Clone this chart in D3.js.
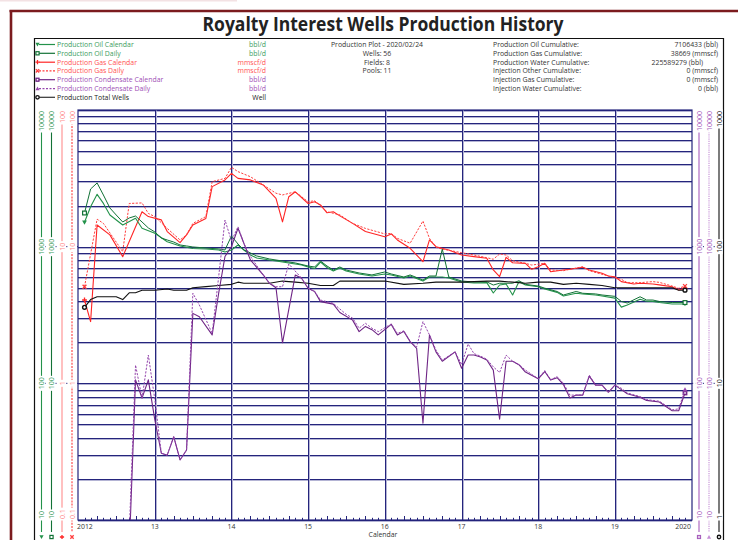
<!DOCTYPE html>
<html><head><meta charset="utf-8">
<script src="https://cdn.jsdelivr.net/npm/d3@7"></script>
<style>body{margin:0;background:#fff}svg{display:block}text{font-family:"Open Sans","Liberation Sans",Arial,sans-serif}</style>
</head><body><svg id="c" width="738" height="540"></svg>
<script>
// ---------- DATA (month index: 0 = Jan 2012) ----------
const oilCalendar = [[1,1507],[2,1957],[3,2415],[4,2073],[5,1705],[7,1442],[9,1614],[10,1364],[12,1252],[14,1087],[16,1012],[18,970],[20,962],[22,946],[23,915],[24,946],[25,1029],[26,946],[27,870],[28,827],[30,798],[32,772],[33,760],[35,735],[36,710],[37,692],[38,772],[39,704],[40,664],[41,698],[42,664],[44,631],[46,610],[48,631],[49,621],[51,590],[52,610],[54,561],[55,600],[56,600],[57,600],[58,590],[60,551],[62,542],[64,546],[65,458],[66,524],[67,533],[68,443],[69,553],[70,524],[72,509],[73,490],[75,463],[76,436],[78,456],[79,451],[81,443],[82,436],[84,420],[85,361],[86,374],[88,412],[89,399],[90,398],[91,390],[93,381],[95,381]];
const oilDaily = [[1,1763],[2,2642],[3,2924],[4,2388],[5,1918],[6,1705],[7,1515],[8,1622],[9,1676],[10,1515],[11,1371],[12,1281],[13,1157],[14,1119],[15,1081],[16,1029],[17,1012],[18,995],[20,978],[22,962],[23,946],[24,1197],[25,1046],[26,946],[27,900],[28,855],[30,813],[32,785],[34,760],[36,722],[37,710],[38,785],[39,722],[40,675],[41,710],[42,675],[44,642],[46,621],[48,653],[49,631],[51,600],[52,621],[54,570],[55,610],[56,610],[57,960],[58,600],[60,561],[62,551],[64,553],[65,524],[66,540],[68,540],[69,563],[70,530],[72,515],[73,497],[75,470],[76,443],[78,470],[79,456],[81,451],[82,443],[84,433],[85,397],[86,387],[88,430],[89,407],[90,407],[91,397],[93,390],[95,390]];
const gasCalendar = [[1,4.07],[2,2.83],[3,14.4],[5,12.2],[7,8.45],[10,18.0],[11,16.6],[13,15.7],[14,12.9],[16,10.7],[17,12.2],[18,14.4],[20,16.1],[21,27.5],[23,30.8],[24,34.4],[25,31.6],[27,30.8],[29,28.3],[31,22.6],[32,15.2],[33,23.2],[34,25.2],[36,20.7],[37,21.3],[38,20.2],[39,17.7],[40,18.0],[41,16.8],[43,14.8],[45,12.9],[48,11.8],[49,12.4],[50,11.2],[52,9.73],[54,7.76],[55,11.2],[56,10.0],[58,9.46],[60,8.69],[62,8.45],[64,8.22],[65,6.75],[66,6.03],[67,8.36],[68,7.63],[70,7.55],[71,6.83],[72,7.13],[73,7.55],[74,6.56],[76,6.75],[77,6.83],[79,7.06],[80,6.75],[82,6.38],[83,6.10],[84,6.03],[85,5.55],[87,5.33],[88,5.40],[90,5.33],[91,5.25],[93,5.09],[94,4.82],[95,4.96]];
const gasDaily = [[1,5.09],[3,15.9],[4,14.8],[7,9.2],[8,20.7],[10,20.9],[11,17.5],[12,16.6],[14,13.6],[16,11.2],[17,12.2],[18,14.8],[20,16.6],[21,29.9],[23,31.6],[24,38.1],[25,35.4],[27,32.5],[29,28.3],[31,24.6],[32,23.9],[34,25.2],[36,21.3],[37,21.7],[39,18.0],[41,17.1],[43,14.8],[45,13.6],[48,12.4],[49,12.5],[50,11.5],[52,10.6],[54,15.4],[55,11.5],[56,9.9],[57,9.6],[60,9.04],[62,8.69],[64,8.3],[65,8.09],[66,8.84],[67,8.69],[68,7.89],[70,7.55],[71,7.34],[73,7.55],[74,6.75],[76,6.67],[77,6.83],[79,7.13],[80,6.67],[83,6.10],[85,5.77],[86,5.45],[88,5.45],[90,5.55],[91,5.48],[93,5.15],[94,4.96],[95,5.15]];
const condensateCalendar = [[8,6],[9,106],[10,78],[11,106],[12,54],[13,30.8],[14,29.8],[15,40.7],[16,27.5],[17,32.5],[18,325],[19,307],[21,226],[22,456],[23,847],[24,1000],[25,1364],[26,1058],[27,800],[29,621],[30,540],[31,500],[32,198],[34,621],[35,588],[36,496],[37,470],[38,396],[40,380],[41,330],[43,290],[44,239],[45,261],[46,247],[47,226],[49,270],[50,226],[51,240],[52,202],[53,180],[54,51],[55,226],[56,170],[57,145],[59,170],[60,129],[61,161],[62,161],[63,156],[64,148],[65,125],[66,54.6],[67,145],[68,145],[69,137],[70,121],[72,108],[73,122],[74,106],[75,110],[76,98],[77,78],[78,82],[79,82],[80,113],[81,97],[82,97],[83,86],[84,97],[85,90],[86,84],[88,79],[89,75],[91,73],[93,63],[94,63],[95,85]];
const condensateDaily = [[8,8],[9,136],[10,78],[11,161],[12,76],[13,30.8],[14,29.8],[15,40.7],[16,27.5],[17,32.5],[18,456],[19,374],[21,232],[22,603],[23,1567],[24,1100],[25,1400],[26,1058],[27,850],[29,621],[30,540],[31,509],[32,509],[33,747],[35,588],[36,496],[37,470],[38,407],[40,385],[41,350],[42,320],[43,300],[44,253],[45,275],[46,253],[47,239],[49,272],[50,232],[51,242],[52,202],[53,185],[54,283],[55,226],[56,175],[57,148],[59,170],[60,137],[61,194],[62,165],[63,158],[64,150],[65,132],[66,120],[67,161],[68,145],[69,137],[70,125],[72,108],[73,124],[74,106],[75,112],[76,100],[77,82],[78,82],[79,82],[80,115],[81,97],[82,97],[83,86],[84,97],[85,92],[86,85],[88,80],[89,76],[91,74],[93,64],[94,65],[95,90]];
const totalWells = [[1,36],[2,41],[3,43],[4,43],[6,43],[7,41],[8,46],[9,46],[10,48],[12,48],[14,49],[15,48],[17,48],[18,50],[20,51],[22,52],[24,53],[25,55],[26,54],[30,54],[32,56],[34,55],[36,54],[38,52],[40,52],[41,56],[43,56],[48,56],[51,53],[54,54],[56,55],[60,55],[64,56],[66,56],[68,55],[70,54],[72,55],[74,55],[76,53],[78,54],[80,53],[82,52],[84,50],[86,50],[88,50],[91,50],[93,50],[94,48],[95,48]];

const xTickLabels = ["2012","13","14","15","16","17","18","19","2020"];
const legendNames = ["Production Oil Calendar","Production Oil Daily","Production Gas Calendar","Production Gas Daily","Production Condensate Calendar","Production Condensate Daily","Production Total Wells"];
const legendUnits = ["bbl/d","bbl/d","mmscf/d","mmscf/d","bbl/d","bbl/d","Well"];
const infoLines = ["Production Plot - 2020/02/24","Wells: 56","Fields: 8","Pools: 11"];
const cumLabels = ["Production Oil Cumulative:","Production Gas Cumulative:","Production Water Cumulative:","Injection Other Cumulative:","Injection Gas Cumulative:","Injection Water Cumulative:"];
const cumValues = ["7106433 (bbl)","38669 (mmscf)","225589279 (bbl)","0 (mmscf)","0 (mmscf)","0 (bbl)"];

// ---------- LAYOUT ----------
const L = 78, R = 692, T = 110, B = 520;
const svg = d3.select('#c');
const toDate = m => new Date(2012, m, 1);
const x = d3.scaleTime().domain([new Date(2012,0,1), new Date(2020,0,1)]).range([L, R-0.5]);
const yOil = d3.scaleLog().domain([10,10000]).range([B,T]);
const yGas = d3.scaleLog().domain([0.1,100]).range([B,T]);
const yCond = d3.scaleLog().domain([10,10000]).range([B,T]);
const yWells = d3.scaleLog().domain([1,1000]).range([B,T]);

const C = {
  oilTxt:'#3c9c5e', oilCal:'#23924a', oilDay:'#127236',
  gasTxt:'#ff5252', gasCal:'#ff2525', gasDay:'#ff3d3d', gasAxis:'#ff8c8c',
  condTxt:'#a04fb6', condCal:'#6e2485', condDay:'#9546ad', condAxis:'#a65cbc', condAxisD:'#c68fd6',
  wells:'#111', navy:'#24247c', light:'#b4b4d4'
};

svg.append('rect').attr('width',738).attr('height',540).attr('fill','#fff');
svg.append('rect').attr('x',0).attr('y',0).attr('width',237).attr('height',1.5).attr('fill','#f3e2e4');
// maroon outer frame
svg.append('line').attr('x1',9.5).attr('x2',738).attr('y1',11).attr('y2',11).attr('stroke','#7b1b1e').attr('stroke-width',2.6);
svg.append('line').attr('x1',11).attr('x2',11).attr('y1',10).attr('y2',540).attr('stroke','#7b1b1e').attr('stroke-width',2.6);
// black inner frame
svg.append('path').attr('d','M34.5,540 V38.5 H723.5 V540').attr('fill','none').attr('stroke','#111').attr('stroke-width',1.2);

// title
svg.append('text').attr('x',383).attr('y',31).attr('text-anchor','middle').attr('font-size',20).attr('font-weight',700)
  .attr('fill','#222').attr('textLength',361).attr('lengthAdjust','spacingAndGlyphs').text('Royalty Interest Wells Production History');

// ---------- MARKERS ----------
function marker(g, type, cx, cy, color, s){
  s = s || 2.6;
  const m = g.append('g').attr('transform',`translate(${cx},${cy})`);
  if(type==='triDown') m.append('path').attr('d',`M${-s},${-s*0.8}H${s}L0,${s}Z`).attr('fill',color);
  else if(type==='triUp') m.append('path').attr('d',`M${-s},${s*0.8}H${s}L0,${-s}Z`).attr('fill',color);
  else if(type==='square') m.append('rect').attr('x',-s+0.5).attr('y',-s+0.5).attr('width',2*s-1).attr('height',2*s-1).attr('fill','#fff').attr('stroke',color).attr('stroke-width',1.2);
  else if(type==='squareFilled'){ m.append('rect').attr('x',-s+0.5).attr('y',-s+0.5).attr('width',2*s-1).attr('height',2*s-1).attr('fill',color).attr('stroke',color).attr('stroke-width',1);
    m.append('rect').attr('x',-0.8).attr('y',-0.8).attr('width',1.6).attr('height',1.6).attr('fill','#fff'); }
  else if(type==='plus') m.append('path').attr('d',`M${-s},0H${s}M0,${-s}V${s}`).attr('stroke',color).attr('stroke-width',1.3);
  else if(type==='cross') m.append('path').attr('d',`M${-s*0.8},${-s*0.8}L${s*0.8},${s*0.8}M${-s*0.8},${s*0.8}L${s*0.8},${-s*0.8}`).attr('stroke',color).attr('stroke-width',1.3);
  else if(type==='circle') m.append('circle').attr('r',s*0.8).attr('fill','#fff').attr('stroke',color).attr('stroke-width',1.4);
}

// ---------- LEGEND / HEADER ----------
const legendStyle = [
  {txt:C.oilTxt, line:C.oilCal, dash:null, mk:'triDown', mc:C.oilCal},
  {txt:C.oilTxt, line:C.oilDay, dash:null, mk:'square', mc:C.oilDay},
  {txt:C.gasTxt, line:C.gasCal, dash:null, mk:'plus', mc:C.gasCal},
  {txt:C.gasTxt, line:C.gasDay, dash:'2,1.5', mk:'cross', mc:C.gasDay},
  {txt:C.condTxt, line:C.condCal, dash:null, mk:'squareFilled', mc:C.condCal},
  {txt:C.condTxt, line:C.condDay, dash:'2,1.5', mk:'triUp', mc:C.condDay},
  {txt:'#222', line:'#333', dash:null, mk:'circle', mc:'#111'}
];
const rowY = [44.5,53.3,62.2,70.8,79.7,88.6,97.3];
const lg = svg.append('g');
legendNames.forEach((n,i)=>{
  const st = legendStyle[i], y = rowY[i];
  lg.append('line').attr('x1',39).attr('x2',55).attr('y1',y).attr('y2',y).attr('stroke',st.line).attr('stroke-width',1.2).attr('stroke-dasharray',st.dash);
  marker(lg, st.mk, 37.5, y, st.mc, 2.1);
  lg.append('text').attr('x',57).attr('y',y+2.4).attr('font-size',6.9).attr('fill',st.txt).text(n);
  lg.append('text').attr('x',266).attr('y',y+2.4).attr('text-anchor','end').attr('font-size',6.9).attr('fill',st.txt).text(legendUnits[i]);
});
infoLines.forEach((t,i)=>{
  lg.append('text').attr('x',377).attr('y',rowY[i]+2.4).attr('text-anchor','middle').attr('font-size',6.9).attr('fill','#333').text(t);
});
cumLabels.forEach((t,i)=>{
  lg.append('text').attr('x',493).attr('y',rowY[i]+2.4).attr('font-size',6.9).attr('fill','#333').text(t);
  lg.append('text').attr('x', i===2 ? 703 : 718).attr('y',rowY[i]+2.4).attr('text-anchor','end').attr('font-size',6.9).attr('fill','#333').text(cumValues[i]);
});

// ---------- GRID ----------
const grid = svg.append('g');
yOil.ticks().forEach(v=>{
  const y = Math.round(yOil(v)) + 0.5;
  grid.append('line').attr('x1',L).attr('x2',R).attr('y1',y+1).attr('y2',y+1).attr('stroke',C.light).attr('stroke-width',1);
  grid.append('line').attr('x1',L).attr('x2',R).attr('y1',y).attr('y2',y).attr('stroke',C.navy).attr('stroke-width',1);
});
d3.range(2013,2020).forEach(yr=>{
  const xx = Math.round(x(new Date(yr,0,1))) + 0.5;
  grid.append('line').attr('x1',xx+1).attr('x2',xx+1).attr('y1',T).attr('y2',B).attr('stroke',C.light).attr('stroke-width',1);
  grid.append('line').attr('x1',xx).attr('x2',xx).attr('y1',T).attr('y2',B).attr('stroke',C.navy).attr('stroke-width',1);
});
grid.append('rect').attr('x',L).attr('y',T).attr('width',R-L).attr('height',B-T).attr('fill','none').attr('stroke',C.navy).attr('stroke-width',1.2);
// month ticks
d3.timeMonth.range(new Date(2012,1,1), new Date(2020,0,1)).forEach(d=>{
  if(d.getMonth()===0) return;
  const xx = Math.round(x(d))+0.5, h = d.getMonth()%3===0 ? 4 : 2.2;
  grid.append('line').attr('x1',xx).attr('x2',xx).attr('y1',B).attr('y2',B-h).attr('stroke',C.navy).attr('stroke-width',1);
});
// x labels
const years = d3.range(2012,2021);
years.forEach((yr,i)=>{
  const xx = x(new Date(yr,0,1));
  svg.append('text').attr('x', i===0 ? L-1 : (i===years.length-1 ? R-1 : xx))
    .attr('y',529).attr('text-anchor', i===0 ? 'start' : (i===years.length-1 ? 'end' : 'middle'))
    .attr('font-size',6.9).attr('fill','#333').text(xTickLabels[i]);
});
svg.append('text').attr('x',383).attr('y',537).attr('text-anchor','middle').attr('font-size',6.9).attr('fill','#333').text('Calendar');

// ---------- SIDE AXES ----------
const isDecade = v => Math.abs(Math.log10(v) - Math.round(Math.log10(v))) < 1e-9;
const fmt = d3.format('~g');
[yOil(1000), yOil(100)].forEach(y=>{
  svg.append('line').attr('x1',41).attr('x2',L).attr('y1',y).attr('y2',y).attr('stroke',C.navy).attr('stroke-width',1).attr('stroke-dasharray','1.2,2.4');
  svg.append('line').attr('x1',R).attr('x2',719).attr('y1',y).attr('y2',y).attr('stroke',C.navy).attr('stroke-width',1).attr('stroke-dasharray','1.2,2.4');
});
const sideAxes = [
  {x:41.5, scale:yOil, line:C.oilCal, txt:C.oilTxt, dash:null, mk:'triDown'},
  {x:51.5, scale:yOil, line:C.oilDay, txt:C.oilTxt, dash:null, mk:'square'},
  {x:62, scale:yGas, line:C.gasAxis, txt:C.gasAxis, dash:null, mk:'plus'},
  {x:72, scale:yGas, line:C.gasDay, txt:C.gasAxis, dash:'2,1.2', mk:'cross'},
  {x:699, scale:yCond, line:C.condAxis, txt:C.condAxis, dash:null, mk:'squareFilled'},
  {x:709, scale:yCond, line:C.condAxisD, txt:C.condAxis, dash:'1.2,1', mk:'triUp'},
  {x:719, scale:yWells, line:'#111', txt:'#222', dash:null, mk:'circle'}
];
sideAxes.forEach(a=>{
  const g = svg.append('g');
  g.append('line').attr('x1',a.x).attr('x2',a.x).attr('y1',T).attr('y2',532).attr('stroke',a.line).attr('stroke-width',1.1).attr('stroke-dasharray',a.dash);
  const dec = a.scale.ticks().filter(isDecade);
  dec.forEach((v,i)=>{
    const y = a.scale(v) + (i===0 ? -1 : (i===dec.length-1 ? 1 : 0));
    const anchor = i===0 ? 'start' : (i===dec.length-1 ? 'end' : 'middle');
    const tg = g.append('g').attr('transform',`translate(${a.x},${y}) rotate(-90)`);
    const t = tg.append('text').attr('text-anchor',anchor).attr('dy','0.36em').attr('font-size',7).attr('fill',a.txt).text(fmt(v));
    const bb = t.node().getBBox();
    tg.insert('rect','text').attr('x',bb.x-1.5).attr('y',bb.y+0.8).attr('width',bb.width+3).attr('height',bb.height-1.6).attr('fill','#fff');
  });
  marker(g, a.mk, a.x, 537, a.line === C.gasAxis ? C.gasCal : a.line, 2.1);
});

// ---------- SERIES ----------
svg.append('clipPath').attr('id','plotclip').append('rect').attr('x',L).attr('y',T-4).attr('width',R-L+4).attr('height',B-T+4);
const plot = svg.append('g').attr('clip-path','url(#plotclip)');
const series = [
  {data:gasCalendar, scale:yGas, color:C.gasCal, dash:null, mk:'plus', w:1.1},
  {data:gasDaily, scale:yGas, color:C.gasDay, dash:'2.2,1.4', mk:'cross', w:1},
  {data:oilCalendar, scale:yOil, color:C.oilCal, dash:null, mk:'triDown', w:1.1},
  {data:oilDaily, scale:yOil, color:C.oilDay, dash:null, mk:'square', w:1},
  {data:totalWells, scale:yWells, color:C.wells, dash:null, mk:'circle', w:1.1},
  {data:condensateCalendar, scale:yCond, color:C.condCal, dash:null, mk:'squareFilled', w:1.1},
  {data:condensateDaily, scale:yCond, color:C.condDay, dash:'2.2,1.4', mk:'triUp', w:1}
];
series.forEach(s=>{
  const line = d3.line().x(d=>x(toDate(d[0]))).y(d=>s.scale(d[1]));
  plot.append('path').datum(s.data).attr('d',line).attr('fill','none').attr('stroke',s.color)
    .attr('stroke-width',s.w).attr('stroke-dasharray',s.dash).attr('stroke-linejoin','round');
  const ends = [s.data[0], s.data[s.data.length-1]];
  ends.forEach(d=>marker(plot, s.mk, x(toDate(d[0])), s.scale(d[1]), s.color, 2.4));
});
</script></body></html>
